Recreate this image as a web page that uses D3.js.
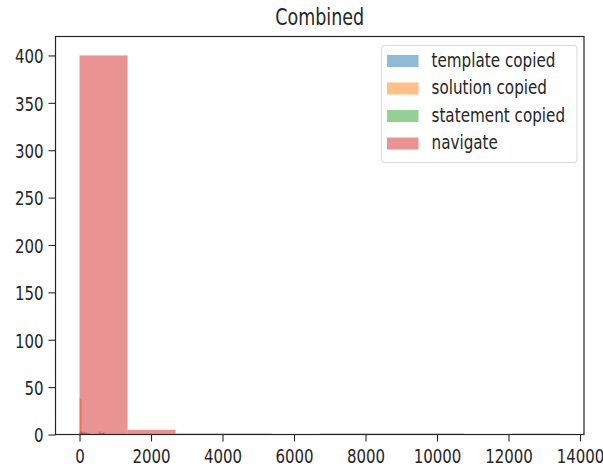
<!DOCTYPE html>
<html>
<head>
<meta charset="utf-8">
<script src="https://cdn.jsdelivr.net/npm/d3@7"></script>
<style>
  html, body { margin: 0; padding: 0; background: #fff; }
  svg text { font-family: "DejaVu Sans", sans-serif; fill: #262626; }
</style>
</head>
<body>
<svg id="chart" width="603" height="468"></svg>
<script>
// ---- data (histogram bin edges and counts) ----
const seriesNames = ["template copied", "solution copied", "statement copied", "navigate"];
const seriesColors = ["#1f77b4", "#ff7f0e", "#2ca02c", "#d62728"];

const templateEdges = [0, 70, 140, 210, 280, 350, 420, 490, 560, 630, 700];
const templateCounts = [3, 2, 2, 1, 0, 0, 0, 0, 1, 2];

const solutionEdges = [0, 60, 120, 180, 240, 300, 360, 420, 480, 540, 600];
const solutionCounts = [38, 3, 2, 1, 1, 0, 0, 1, 0, 3];

const statementEdges = [0, 65, 130, 195, 260, 325, 390, 455, 520, 585, 650];
const statementCounts = [2, 1, 1, 0, 0, 0, 0, 0, 1, 1];

const navigateEdges = [0, 1344, 2688, 4032, 5376, 6720, 8064, 9408, 10752, 12096, 13440];
const navigateCounts = [400, 5, 1, 1, 0, 1, 1, 1, 0, 1];

const xTicks = [0, 2000, 4000, 6000, 8000, 10000, 12000, 14000];
const yTicks = [0, 50, 100, 150, 200, 250, 300, 350, 400];
const xDomain = [-672, 14112];
const yDomain = [0, 420];
const titleText = "Combined";

// ---- layout ----
const mLeft = 55.5, mRight = 584, mTop = 36.5, mBottom = 434.5;
const SY = 1.33; // vertical stretch of the text in the reference
const svg = d3.select("#chart");

const x = d3.scaleLinear().domain(xDomain).range([mLeft, mRight]);
const y = d3.scaleLinear().domain(yDomain).range([mBottom, mTop]);

const allSeries = [
  { edges: templateEdges, counts: templateCounts },
  { edges: solutionEdges, counts: solutionCounts },
  { edges: statementEdges, counts: statementCounts },
  { edges: navigateEdges, counts: navigateCounts }
];

const plot = svg.append("g");
allSeries.forEach((s, si) => {
  const bins = s.counts.map((c, i) => ({ x0: s.edges[i], x1: s.edges[i + 1], c }));
  plot.append("g").selectAll("rect").data(bins.filter(b => b.c > 0)).join("rect")
    .attr("x", d => x(d.x0))
    .attr("width", d => x(d.x1) - x(d.x0))
    .attr("y", d => y(d.c))
    .attr("height", d => y(0) - y(d.c))
    .attr("fill", seriesColors[si])
    .attr("fill-opacity", 0.5);
});

// helper: text stretched vertically about its baseline point
function stretchedText(parent, tx, ty, str, size, anchor) {
  return parent.append("text")
    .attr("transform", `translate(${tx},${ty}) scale(1,${SY})`)
    .attr("text-anchor", anchor)
    .style("font-size", size + "px")
    .text(str);
}

// axes (ticks via d3 axes, labels re-set with stretch)
const xAxis = d3.axisBottom(x).tickValues(xTicks).tickFormat(d3.format("d")).tickSize(7).tickPadding(4);
const yAxis = d3.axisLeft(y).tickValues(yTicks).tickFormat(d3.format("d")).tickSize(7).tickPadding(4);

const gx = svg.append("g").attr("transform", `translate(0,${mBottom})`).call(xAxis);
const gy = svg.append("g").attr("transform", `translate(${mLeft},0)`).call(yAxis);
[gx, gy].forEach(g => {
  g.select(".domain").remove();
  g.selectAll(".tick line").attr("stroke", "#262626").attr("stroke-width", 1.1);
});
gx.selectAll(".tick text")
  .attr("y", null).attr("dy", null)
  .style("font-size", "15px").style("font-family", "DejaVu Sans")
  .attr("transform", `translate(0,28) scale(1,${SY})`);
gy.selectAll(".tick text")
  .attr("x", null).attr("dy", null)
  .attr("text-anchor", "end")
  .style("font-size", "15px").style("font-family", "DejaVu Sans")
  .attr("transform", `translate(-12,7.3) scale(1,${SY})`);

// spines
svg.append("rect")
  .attr("x", mLeft).attr("y", mTop)
  .attr("width", mRight - mLeft).attr("height", mBottom - mTop)
  .attr("fill", "none").attr("stroke", "#262626").attr("stroke-width", 1.2);

// title
stretchedText(svg, (mLeft + mRight) / 2, 25, titleText, 17.5, "middle");

// legend
const lg = svg.append("g");
lg.append("rect")
  .attr("x", 381.5).attr("y", 45.5).attr("width", 195.5).attr("height", 117)
  .attr("rx", 3).attr("fill", "#fff").attr("fill-opacity", 0.8)
  .attr("stroke", "#d9d9d9").attr("stroke-width", 1);
seriesNames.forEach((name, i) => {
  const cy = 61 + i * 27.5;
  lg.append("rect")
    .attr("x", 387).attr("y", cy - 6).attr("width", 31.5).attr("height", 12)
    .attr("fill", seriesColors[i]).attr("fill-opacity", 0.5);
  stretchedText(lg, 431.5, cy + 5.5, name, 15.2, "start");
});
</script>
</body>
</html>
